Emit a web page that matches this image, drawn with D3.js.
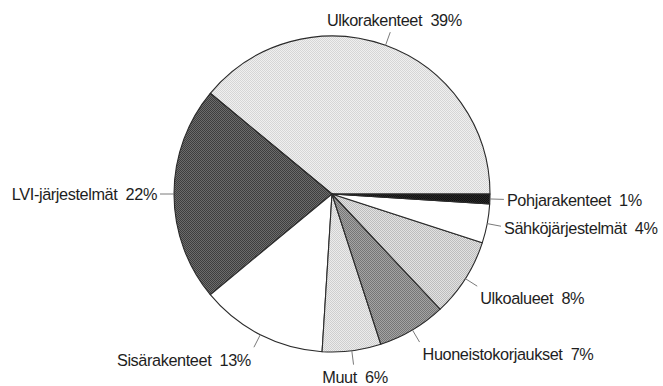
<!DOCTYPE html>
<html>
<head>
<meta charset="utf-8">
<script src="https://cdn.jsdelivr.net/npm/d3@7"></script>
<style>
  html, body { margin: 0; padding: 0; background: #fff; }
  svg { display: block; }
  text { font-family: "Liberation Sans", Arial, Helvetica, sans-serif; font-size: 16.3px; letter-spacing: -0.4px; fill: #1e1e1e; white-space: pre; }
</style>
</head>
<body>
<svg id="chart" width="663" height="386"></svg>
<script>
// Cost breakdown by building part (%), drawn counter-clockwise from 3 o'clock
const categories = ["Ulkorakenteet", "LVI-järjestelmät", "Sisärakenteet", "Muut",
                    "Huoneistokorjaukset", "Ulkoalueet", "Sähköjärjestelmät", "Pohjarakenteet"];
const shares = [39, 22, 13, 6, 7, 8, 4, 1];

const width = 663, height = 386;
const cx = 332, cy = 194, radius = 158;
const leader = 14;

const svg = d3.select("#chart");
const defs = svg.append("defs");

// halftone-like shading: a 2x2 checker of two close greys
const shades = [
  { id: "s-ulko",  light: "#f0f0f0", dark: "#d6d6d6" },
  { id: "s-lvi",   light: "#6c6c6c", dark: "#3e3e3e" },
  { id: "s-sisa",  light: "#ffffff", dark: "#ffffff" },
  { id: "s-muut",  light: "#ececec", dark: "#cfcfcf" },
  { id: "s-huon",  light: "#a4a4a4", dark: "#767676" },
  { id: "s-ulkoa", light: "#e2e2e2", dark: "#bdbdbd" },
  { id: "s-sahko", light: "#ffffff", dark: "#ffffff" },
  { id: "s-pohja", light: "#2a2a2a", dark: "#111111" }
];
shades.forEach(s => {
  const p = defs.append("pattern")
    .attr("id", s.id).attr("patternUnits", "userSpaceOnUse")
    .attr("width", 2).attr("height", 2);
  p.append("rect").attr("width", 2).attr("height", 2).attr("fill", s.light);
  p.append("rect").attr("x", 0).attr("y", 0).attr("width", 1).attr("height", 1).attr("fill", s.dark);
  p.append("rect").attr("x", 1).attr("y", 1).attr("width", 1).attr("height", 1).attr("fill", s.dark);
});

const fill = d3.scaleOrdinal()
  .domain(categories)
  .range(shades.map(s => `url(#${s.id})`));

const pie = d3.pie()
  .sort(null)
  .value(d => d.value)
  .startAngle(Math.PI / 2)
  .endAngle(Math.PI / 2 - 2 * Math.PI);

const data = categories.map((c, i) => ({ name: c, value: shares[i] }));
const arcs = pie(data);

const arc = d3.arc().innerRadius(0).outerRadius(radius);

const g = svg.append("g").attr("transform", `translate(${cx},${cy})`);

g.selectAll("path.slice")
  .data(arcs)
  .join("path")
  .attr("class", "slice")
  .attr("d", arc)
  .attr("fill", d => fill(d.data.name))
  .attr("stroke", "#2a2a2a")
  .attr("stroke-width", 1.1)
  .attr("stroke-linejoin", "round");

// leader lines and labels
const labels = g.selectAll("g.label")
  .data(arcs)
  .join("g")
  .attr("class", "label");

function dir(d) {
  const a = (d.startAngle + d.endAngle) / 2;
  return [Math.sin(a), -Math.cos(a)];
}

labels.append("line")
  .attr("x1", d => dir(d)[0] * radius)
  .attr("y1", d => dir(d)[1] * radius)
  .attr("x2", d => dir(d)[0] * (radius + leader))
  .attr("y2", d => dir(d)[1] * (radius + leader))
  .attr("stroke", "#7a7a7a")
  .attr("stroke-width", 1);

labels.append("text")
  .attr("text-anchor", d => {
    const dx = dir(d)[0];
    return dx > 0.4 ? "start" : dx < -0.4 ? "end" : "middle";
  })
  .attr("x", d => {
    const dx = dir(d)[0];
    const ex = dx * (radius + leader);
    return dx > 0.4 ? ex + 3 : dx < -0.4 ? ex - 3 : ex + dx * 12;
  })
  .attr("y", d => {
    const dy = dir(d)[1];
    const ey = dy * (radius + leader);
    // labels on the lower half sit below their leader, upper ones above it
    const shift = dy > 0.5 ? 12.5 : dy < -0.5 ? -12 : dy * 13;
    return ey + shift + 5.8;
  })
  .text(d => `${d.data.name}  ${d.data.value}%`);
</script>
</body>
</html>
